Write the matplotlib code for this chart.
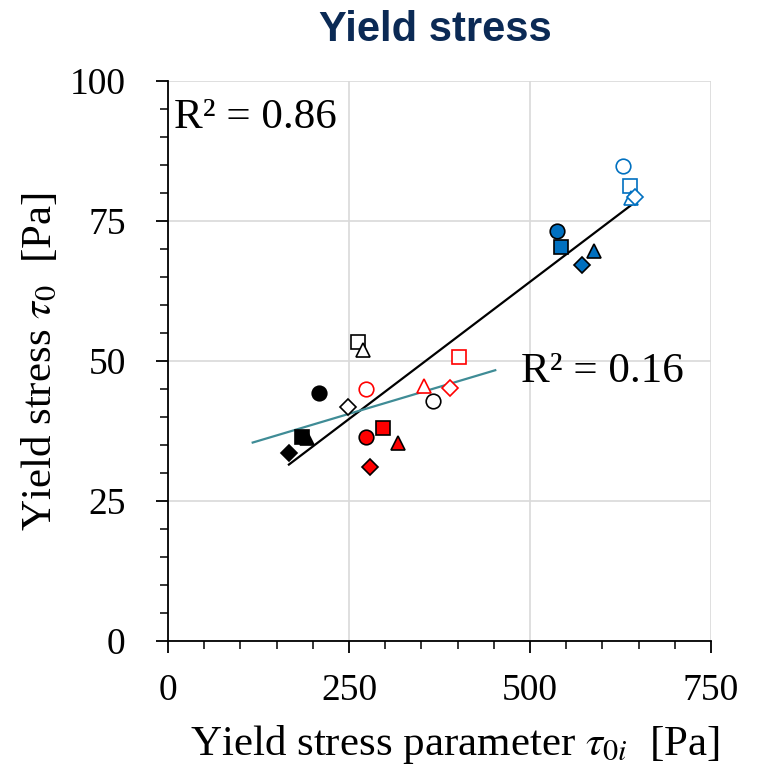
import numpy as np
import matplotlib
matplotlib.use("Agg")
import matplotlib.pyplot as plt

# ---------- data ----------
shapes = ["o", "s", "^", "D"]

# filled markers (circle, square, triangle, diamond)
black_filled_x = [208, 185, 192, 167]
black_filled_y = [44.3, 36.5, 36.2, 33.5]
red_filled_x = [273, 297, 317, 279]
red_filled_y = [36.5, 38.1, 35.3, 31.0]
blue_filled_x = [537, 543, 588, 572]
blue_filled_y = [73.2, 70.4, 69.6, 67.1]

# open markers (circle, square, triangle, diamond)
black_open_x = [366, 263, 270, 248]
black_open_y = [42.9, 53.4, 52.0, 41.7]
red_open_x = [273, 402, 354, 390]
red_open_y = [45.0, 50.7, 45.5, 45.1]
blue_open_x = [629, 638, 640, 645]
blue_open_y = [84.8, 81.3, 79.1, 79.2]

r2_all = "R\u00b2 = 0.86"
r2_sub = "R\u00b2 = 0.16"
forecast = 50  # trendline forward/backward extension for the sub fit

BLACK = "#000000"
RED = "#FF0000"
BLUE = "#0070C0"
TEAL = "#3F8C96"

plt.rcParams["font.family"] = ["Liberation Serif", "DejaVu Serif"]
plt.rcParams["mathtext.fontset"] = "stix"

fig = plt.figure(figsize=(7.59, 7.74), dpi=100)
ax = fig.add_axes([168 / 759, 1 - 641 / 774, 543 / 759, 560 / 774])

# ---------- trendlines ----------
all_x = np.array(black_filled_x + red_filled_x + blue_filled_x + black_open_x + red_open_x + blue_open_x)
all_y = np.array(black_filled_y + red_filled_y + blue_filled_y + black_open_y + red_open_y + blue_open_y)
k, b = np.polyfit(all_x, all_y, 1)
xs = np.array([all_x.min(), all_x.max()])
ax.plot(xs, k * xs + b, color=BLACK, lw=1.6, zorder=3)

sub_x = np.array(black_filled_x + red_filled_x + black_open_x + red_open_x)
sub_y = np.array(black_filled_y + red_filled_y + black_open_y + red_open_y)
k2, b2 = np.polyfit(sub_x, sub_y, 1)
xs2 = np.array([sub_x.min() - forecast, sub_x.max() + forecast])
ax.plot(xs2, k2 * xs2 + b2, color=TEAL, lw=1.6, zorder=3)

# ---------- markers ----------
groups_filled = [(black_filled_x, black_filled_y, BLACK),
                 (red_filled_x, red_filled_y, RED),
                 (blue_filled_x, blue_filled_y, BLUE)]
groups_open = [(black_open_x, black_open_y, BLACK),
               (red_open_x, red_open_y, RED),
               (blue_open_x, blue_open_y, BLUE)]

sizes = {"o": 10.5, "s": 10.0, "^": 10.5, "D": 8.5}

for xs_, ys_, c in groups_filled:
    for x, y, m in zip(xs_, ys_, shapes):
        ax.plot(x, y, marker=m, ms=sizes[m], mfc=c, mec="black", mew=1.2,
                ls="none", zorder=4)

for xs_, ys_, c in groups_open:
    for x, y, m in zip(xs_, ys_, shapes):
        ax.plot(x, y, marker=m, ms=sizes[m], mfc="white", mec=c, mew=1.2,
                ls="none", zorder=4)

# ---------- axes ----------
ax.set_xlim(0, 750)
ax.set_ylim(0, 100)
ax.set_xticks([0, 250, 500, 750])
ax.set_yticks([0, 25, 50, 75, 100])
ax.set_xticks(np.arange(0, 751, 50), minor=True)
ax.set_yticks(np.arange(0, 101, 5), minor=True)
ax.grid(True, which="major", color="#D9D9D9", lw=1.2)
ax.set_axisbelow(True)
for s in ["top", "right"]:
    ax.spines[s].set_visible(False)
for s in ["left", "bottom"]:
    ax.spines[s].set_linewidth(1.3)
ax.tick_params(which="major", direction="out", length=8.5, width=1.3,
               labelsize=27)
ax.tick_params(axis="y", which="major", pad=22)
ax.tick_params(axis="x", which="major", pad=15)
ax.tick_params(which="minor", direction="out", length=5.5, width=1.1)

ax.set_xlabel(r"Yield stress parameter $\tau_{0i}$  [Pa]", fontsize=31, va="center")
ax.set_ylabel(r"Yield stress $\tau_0$  [Pa]", fontsize=31, va="center")
ax.xaxis.set_label_coords(0.528, (641 - 745) / 560)
ax.yaxis.set_label_coords((40 - 168) / 543, 0.5)

ax.text(8, 93.5, r2_all, fontsize=31, ha="left", va="center")
ax.text(488, 48, r2_sub, fontsize=31, ha="left", va="center")

fig.text(435 / 759, 1 - 30 / 774, "Yield stress", family="Liberation Sans",
         fontweight="bold", fontsize=30, color="#0B2A55", ha="center", va="center")

fig.savefig("out.png", dpi=100)
